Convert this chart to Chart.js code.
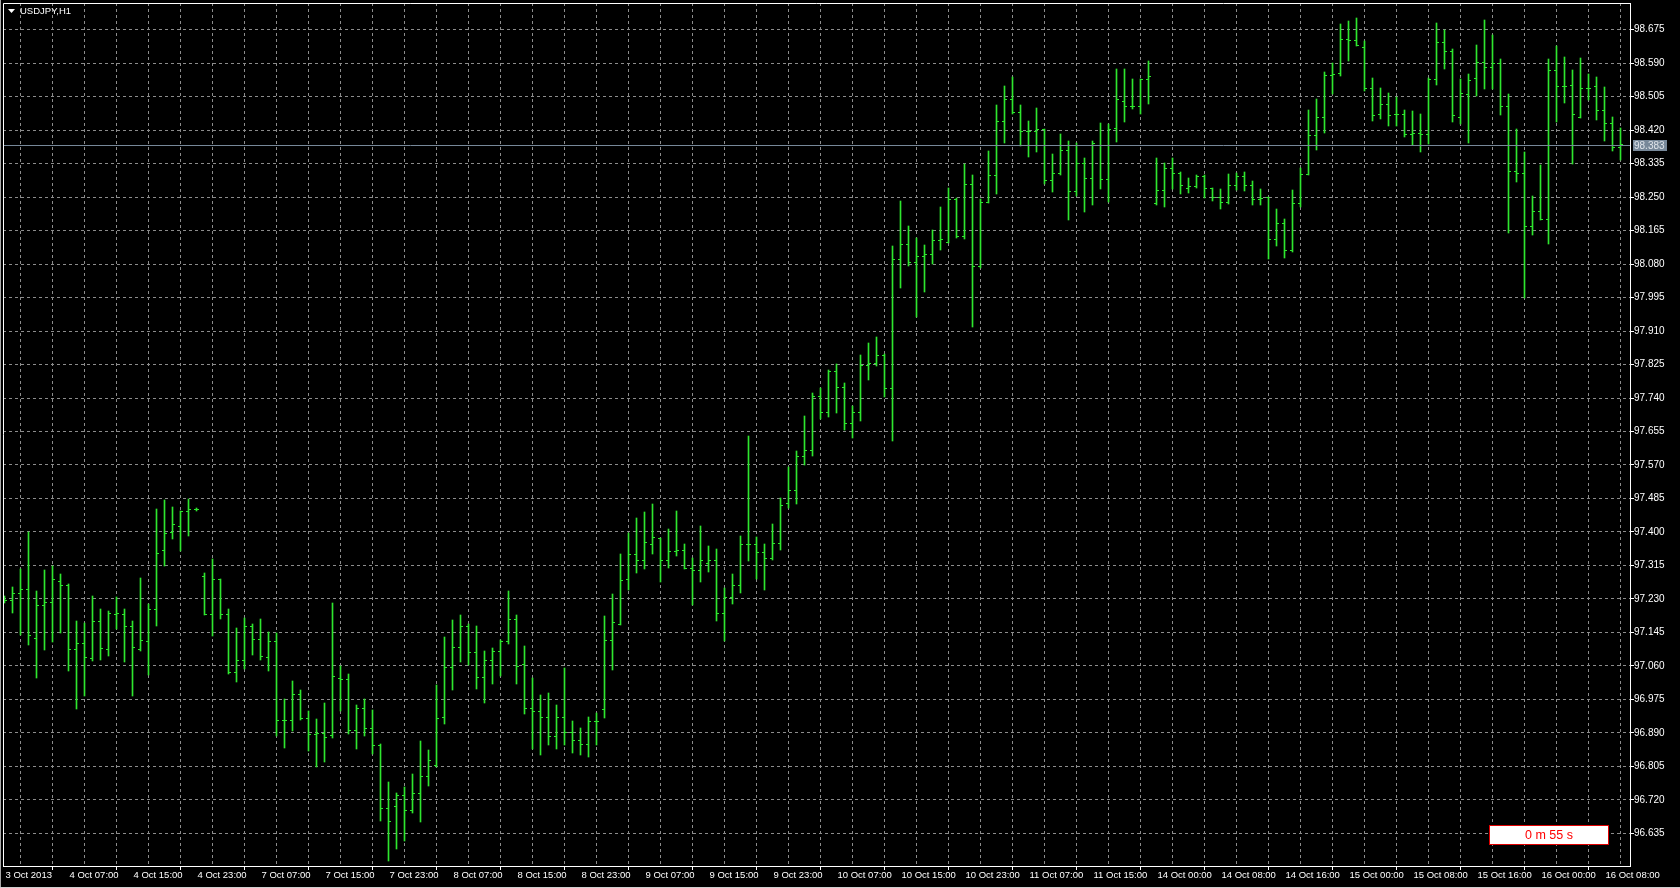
<!DOCTYPE html>
<html><head><meta charset="utf-8">
<script src="https://cdn.jsdelivr.net/npm/chart.js@4.4.0/dist/chart.umd.min.js"></script>
<style>html,body{margin:0;padding:0;background:#000;overflow:hidden}canvas{display:block}</style>
</head><body><canvas id="c" width="1680" height="888"></canvas>
<script>
const symbolTitle = 'USDJPY,H1';
const bidPrice = 98.383;
const timerText = '0 m 55 s';

const opens = [
97.227,97.227,97.243,97.254,97.130,97.214,97.221,97.275,97.263,97.102,
97.116,97.078,97.173,97.102,97.191,97.191,97.159,97.102,97.122,97.202,
97.354,97.399,97.414,97.452,97.457,97.288,97.191,97.278,97.191,97.044,
97.073,97.159,97.126,97.082,97.123,96.921,96.921,96.988,96.926,96.885,
96.889,96.883,97.029,97.026,96.895,96.953,96.902,96.857,96.697,96.702,
96.732,96.694,96.735,96.778,96.806,96.929,97.057,97.106,97.159,97.094,
97.030,97.074,97.096,97.122,97.178,97.064,96.953,96.943,96.930,96.880,
96.930,96.890,96.870,96.860,96.920,96.950,97.125,97.165,97.279,97.343,
97.328,97.368,97.384,97.327,97.350,97.354,97.307,97.301,97.320,97.327,
97.194,97.233,97.263,97.368,97.368,97.348,97.332,97.370,97.473,97.504,
97.592,97.607,97.743,97.702,97.808,97.766,97.675,97.702,97.822,97.827,
97.849,97.764,98.091,98.129,98.083,98.098,98.105,98.141,98.136,98.245,
98.151,98.283,98.075,98.237,98.306,98.443,98.497,98.465,98.416,98.416,
98.421,98.293,98.311,98.369,98.264,98.336,98.297,98.382,98.295,98.424,
98.492,98.480,98.480,98.548,98.234,98.267,98.323,98.311,98.273,98.276,
98.302,98.272,98.249,98.237,98.280,98.302,98.279,98.243,98.249,98.143,
98.184,98.115,98.235,98.308,98.406,98.452,98.560,98.564,98.649,98.648,
98.630,98.526,98.460,98.485,98.459,98.460,98.410,98.411,98.408,98.548,
98.642,98.620,98.452,98.511,98.552,98.591,98.580,98.588,98.480,98.315,
98.310,98.176,98.213,98.193,98.572,98.530,98.533,98.452,98.526,98.530,
98.471,98.437,98.376
];
const highs = [
97.235,97.259,97.305,97.399,97.250,97.301,97.311,97.293,97.267,97.173,
97.168,97.237,97.204,97.197,97.234,97.204,97.172,97.282,97.216,97.458,
97.480,97.461,97.453,97.482,97.460,97.295,97.329,97.278,97.204,97.156,
97.179,97.164,97.177,97.145,97.141,96.974,97.021,96.997,96.943,96.923,
96.964,97.219,97.058,97.037,96.960,96.975,96.946,96.860,96.763,96.736,
96.752,96.784,96.868,96.845,97.009,97.133,97.174,97.187,97.164,97.159,
97.096,97.105,97.125,97.250,97.187,97.108,97.027,96.986,96.990,96.960,
97.053,96.920,96.900,96.930,96.940,97.185,97.242,97.342,97.397,97.434,
97.449,97.470,97.384,97.407,97.452,97.368,97.333,97.415,97.362,97.356,
97.257,97.292,97.389,97.643,97.387,97.367,97.419,97.486,97.564,97.603,
97.692,97.752,97.764,97.809,97.826,97.778,97.718,97.848,97.878,97.893,
97.850,98.124,98.239,98.175,98.145,98.126,98.165,98.223,98.271,98.246,
98.332,98.304,98.243,98.367,98.483,98.532,98.553,98.483,98.441,98.476,
98.421,98.358,98.408,98.391,98.387,98.349,98.391,98.437,98.435,98.574,
98.574,98.549,98.549,98.594,98.349,98.335,98.349,98.313,98.296,98.305,
98.304,98.273,98.269,98.307,98.309,98.313,98.289,98.270,98.249,98.218,
98.192,98.268,98.323,98.469,98.497,98.567,98.589,98.689,98.695,98.704,
98.645,98.552,98.526,98.514,98.503,98.471,98.467,98.460,98.550,98.692,
98.672,98.624,98.548,98.562,98.635,98.699,98.661,98.599,98.511,98.422,
98.364,98.252,98.330,98.600,98.633,98.605,98.571,98.602,98.562,98.554,
98.528,98.453,98.423
];
const lows = [
97.220,97.195,97.140,97.115,97.031,97.101,97.122,97.145,97.047,96.952,
96.985,97.074,97.077,97.086,97.155,97.071,96.986,97.099,97.039,97.163,
97.315,97.383,97.352,97.390,97.455,97.190,97.137,97.180,97.041,97.020,
97.053,97.090,97.077,97.048,96.883,96.853,96.896,96.923,96.845,96.805,
96.817,96.877,96.947,96.889,96.849,96.884,96.838,96.668,96.566,96.597,
96.617,96.687,96.664,96.757,96.805,96.914,97.001,97.071,97.063,97.002,
96.968,97.015,97.035,97.116,97.015,96.940,96.849,96.834,96.860,96.850,
96.860,96.840,96.835,96.830,96.860,96.930,97.050,97.165,97.253,97.296,
97.308,97.344,97.273,97.310,97.339,97.306,97.215,97.273,97.300,97.174,
97.124,97.219,97.245,97.327,97.283,97.255,97.329,97.356,97.461,97.471,
97.571,97.595,97.689,97.692,97.704,97.661,97.641,97.684,97.788,97.822,
97.743,97.631,98.021,98.077,97.947,98.010,98.082,98.117,98.135,98.147,
98.146,97.922,98.071,98.237,98.259,98.389,98.462,98.381,98.354,98.366,
98.285,98.263,98.307,98.194,98.254,98.213,98.231,98.271,98.239,98.391,
98.441,98.476,98.462,98.487,98.232,98.226,98.271,98.259,98.261,98.275,
98.249,98.241,98.220,98.233,98.269,98.266,98.231,98.231,98.094,98.127,
98.097,98.112,98.225,98.307,98.370,98.413,98.512,98.560,98.598,98.634,
98.520,98.444,98.450,98.433,98.431,98.403,98.383,98.367,98.387,98.536,
98.577,98.443,98.438,98.388,98.509,98.525,98.525,98.460,98.159,98.290,
97.995,98.156,98.192,98.133,98.443,98.489,98.335,98.452,98.498,98.447,
98.393,98.368,98.345
];
const closes = [
97.227,97.243,97.254,97.136,97.214,97.221,97.278,97.263,97.102,97.116,
97.082,97.173,97.105,97.193,97.193,97.159,97.107,97.125,97.202,97.346,
97.395,97.419,97.452,97.457,97.457,97.191,97.278,97.191,97.044,97.073,
97.159,97.126,97.084,97.123,96.921,96.921,96.988,96.926,96.885,96.889,
96.879,97.033,97.026,96.895,96.953,96.902,96.857,96.697,96.665,96.732,
96.694,96.735,96.778,96.821,96.927,97.057,97.106,97.159,97.094,97.030,
97.074,97.096,97.122,97.178,97.059,96.953,96.943,96.930,96.880,96.930,
96.890,96.870,96.860,96.920,96.920,97.125,97.170,97.277,97.343,97.328,
97.374,97.387,97.327,97.350,97.354,97.307,97.301,97.327,97.327,97.194,
97.233,97.263,97.368,97.368,97.348,97.332,97.370,97.468,97.504,97.592,
97.607,97.743,97.702,97.808,97.766,97.675,97.702,97.822,97.827,97.849,
97.764,98.091,98.129,98.083,98.098,98.105,98.141,98.143,98.245,98.151,
98.283,98.075,98.237,98.306,98.443,98.497,98.465,98.416,98.416,98.421,
98.293,98.311,98.369,98.264,98.336,98.297,98.386,98.295,98.421,98.498,
98.480,98.480,98.548,98.556,98.267,98.323,98.311,98.280,98.276,98.302,
98.272,98.249,98.237,98.280,98.302,98.279,98.243,98.246,98.143,98.184,
98.115,98.235,98.308,98.406,98.452,98.560,98.562,98.649,98.648,98.636,
98.526,98.457,98.485,98.457,98.460,98.410,98.411,98.408,98.548,98.642,
98.620,98.456,98.514,98.547,98.591,98.580,98.588,98.480,98.315,98.310,
98.176,98.213,98.193,98.572,98.530,98.530,98.459,98.526,98.526,98.471,
98.437,98.376,98.383
];

const xTickLabels = ['3 Oct 2013','4 Oct 07:00','4 Oct 15:00','4 Oct 23:00','7 Oct 07:00','7 Oct 15:00',
 '7 Oct 23:00','8 Oct 07:00','8 Oct 15:00','8 Oct 23:00','9 Oct 07:00','9 Oct 15:00','9 Oct 23:00',
 '10 Oct 07:00','10 Oct 15:00','10 Oct 23:00','11 Oct 07:00','11 Oct 15:00','14 Oct 00:00','14 Oct 08:00',
 '14 Oct 16:00','15 Oct 00:00','15 Oct 08:00','15 Oct 16:00','16 Oct 00:00','16 Oct 08:00'];
const yTickLabels = ['98.675','98.590','98.505','98.420','98.335','98.250','98.165','98.080','97.995',
 '97.910','97.825','97.740','97.655','97.570','97.485','97.400','97.315','97.230','97.145','97.060',
 '96.975','96.890','96.805','96.720','96.635'];

const LABEL_EVERY = 8, GRID_EVERY = 4;
const X_MIN = -0.1875, X_MAX = 203.1875;
const Y_MIN = 96.5519, Y_MAX = 98.7428;
const BAR_COLOR = '#2ee62e';
const GRID_COLOR = '#8c8c8c';
const FONT = 'Liberation Sans';

const rangeData = highs.map((h, i) => ({x: i, y: [lows[i], h]}));
const openData = opens.map((o, i) => ({x: i - 0.1875, y: o}));
const closeData = closes.map((c, i) => ({x: i + 0.1875, y: c}));

const snap = {
  id: 'snap',
  afterDatasetsUpdate(chart) {
    chart.data.datasets.forEach((ds, di) => {
      const meta = chart.getDatasetMeta(di);
      meta.data.forEach(el => {
        if (meta.type === 'bar') {
          const top = Math.min(el.y, el.base), bot = Math.max(el.y, el.base);
          el.y = Math.floor(top); el.base = Math.ceil(bot);
        } else {
          el.y = Math.floor(el.y) + 0.5;
        }
      });
    });
  }
};

const chrome = {
  id: 'chrome',
  beforeDraw(chart) {
    const {ctx, width, height} = chart;
    ctx.save(); ctx.fillStyle = '#000'; ctx.fillRect(0, 0, width, height); ctx.restore();
  },
  afterDraw(chart) {
    const {ctx, chartArea: a, scales: {y}, width, height} = chart;
    ctx.save();
    ctx.strokeStyle = '#ffffff'; ctx.lineWidth = 1;
    ctx.beginPath();
    ctx.moveTo(a.left + 0.5, a.bottom); ctx.lineTo(a.left + 0.5, a.top + 0.5); ctx.lineTo(a.right, a.top + 0.5);
    ctx.stroke();
    // window frame
    ctx.fillStyle = '#a8a8a8';
    ctx.fillRect(0, 0, 1, height);
    ctx.fillStyle = '#d0d0d0';
    ctx.fillRect(0, height - 1, width, 1);
    // bid line
    const py = Math.round(y.getPixelForValue(bidPrice)) + 0.5;
    ctx.strokeStyle = '#778899';
    ctx.beginPath(); ctx.moveTo(a.left + 1, py); ctx.lineTo(a.right, py); ctx.stroke();
    ctx.fillStyle = '#778899';
    ctx.fillRect(a.right + 3, py - 5.5, 34, 11);
    ctx.fillStyle = '#dfe4ea';
    ctx.font = '10px "' + FONT + '"';
    ctx.textBaseline = 'middle'; ctx.textAlign = 'left';
    ctx.fillText(bidPrice.toFixed(3), a.right + 4, py + 0.5);
    // title
    ctx.fillStyle = '#ffffff';
    ctx.beginPath(); ctx.moveTo(a.left + 5, 9); ctx.lineTo(a.left + 12, 9); ctx.lineTo(a.left + 8.5, 13); ctx.closePath(); ctx.fill();
    ctx.font = '9.5px "' + FONT + '"';
    ctx.fillText(symbolTitle, a.left + 17, 11.5);
    // timer box
    ctx.fillStyle = '#ffffff';
    ctx.fillRect(1489, 825, 120, 20);
    ctx.strokeStyle = '#e00000';
    ctx.strokeRect(1489.5, 825.5, 119, 19);
    ctx.fillStyle = '#ff0000';
    ctx.font = '12.5px "' + FONT + '"';
    ctx.textAlign = 'center';
    ctx.fillText(timerText, 1549, 835.5);
    ctx.restore();
  }
};

new Chart(document.getElementById('c'), {
  type: 'bar',
  data: {
    datasets: [
      {type: 'line', data: openData, showLine: false, pointStyle: 'line', pointRadius: 1, pointHoverRadius: 1,
       borderColor: BAR_COLOR, pointBorderColor: BAR_COLOR, pointBorderWidth: 1, backgroundColor: BAR_COLOR},
      {type: 'line', data: closeData, showLine: false, pointStyle: 'line', pointRadius: 1, pointHoverRadius: 1,
       borderColor: BAR_COLOR, pointBorderColor: BAR_COLOR, pointBorderWidth: 1, backgroundColor: BAR_COLOR},
      {type: 'bar', data: rangeData, backgroundColor: BAR_COLOR, borderWidth: 0, barThickness: 1, borderSkipped: false}
    ]
  },
  options: {
    responsive: false, animation: false, devicePixelRatio: 1,
    layout: {padding: {left: 3, top: 3, right: 0, bottom: 0}},
    plugins: {legend: {display: false}, tooltip: {enabled: false}, title: {display: false}},
    scales: {
      x: {
        type: 'linear', position: 'bottom', min: X_MIN, max: X_MAX, offset: false,
        afterBuildTicks(s) {
          const t = [];
          for (let v = 0; v <= X_MAX; v += GRID_EVERY) t.push({value: v});
          s.ticks = t;
        },
        afterFit(s) { s.height = 22; s.paddingLeft = 0; s.paddingRight = 0; },
        ticks: {
          autoSkip: false, maxRotation: 0, minRotation: 0, align: 'start', labelOffset: 1, padding: 0,
          color: '#ffffff', font: {family: FONT, size: 9.5},
          callback: (v) => (v % LABEL_EVERY === 0 ? xTickLabels[v / LABEL_EVERY] : '')
        },
        grid: {
          color: (c) => (c.tick && c.tick.value === 0 ? 'rgba(0,0,0,0)' : GRID_COLOR),
          lineWidth: 1, drawTicks: true, tickLength: 4,
          tickColor: (c) => (c.tick && c.tick.value % LABEL_EVERY === 0 ? '#ffffff' : 'rgba(0,0,0,0)')
        },
        border: {display: true, color: '#ffffff', width: 1, dash: [3, 3]}
      },
      y: {
        type: 'linear', position: 'right', min: Y_MIN, max: Y_MAX,
        afterBuildTicks(s) { s.ticks = yTickLabels.map(t => ({value: parseFloat(t)})).reverse(); },
        afterFit(s) { s.width = 50; s.paddingTop = 0; s.paddingBottom = 0; },
        ticks: {
          autoSkip: false, padding: 0, color: '#ffffff', font: {family: FONT, size: 10},
          callback: (v) => yTickLabels.find(t => Math.abs(parseFloat(t) - v) < 1e-6) || ''
        },
        grid: {color: GRID_COLOR, lineWidth: 1, drawTicks: true, tickLength: 4, tickColor: '#ffffff'},
        border: {display: true, color: '#ffffff', width: 1, dash: [3, 3]}
      }
    }
  },
  plugins: [snap, chrome]
});
</script>
</body></html>
